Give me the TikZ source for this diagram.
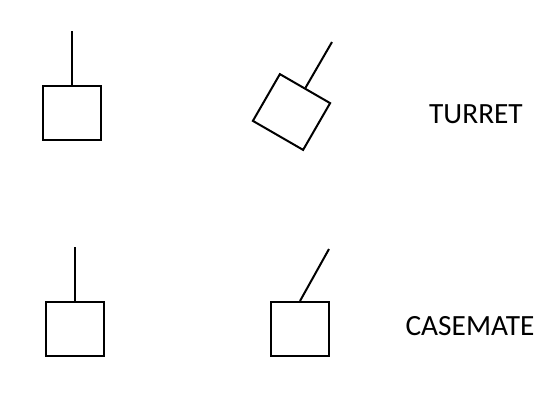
\documentclass[tikz,border=0pt]{standalone}
\usepackage{fontspec}
\setmainfont{Carlito}
\begin{document}
\begin{tikzpicture}[x=0.75pt,y=-0.75pt,
  hull/.style={draw,line width=1.5pt,inner sep=0pt,minimum width=43.5pt,minimum height=40.5pt},
  gun/.style={line width=1.5pt},
  lbl/.style={font=\fontsize{22pt}{26pt}\selectfont,inner sep=0pt}]
\useasboundingbox (0,0) rectangle (554,408);
\node[hull] (t1) at (72,113) {};
\coordinate (g1) at (72,31);
\draw[gun] (t1.north) -- (g1);
\node[hull,rotate=-30] (t2) at (291.5,112) {};
\coordinate (g2) at (332,42);
\draw[gun] (t2.north) -- (g2);
\node[hull] (c1) at (75,329) {};
\coordinate (g3) at (75,247);
\draw[gun] (c1.north) -- (g3);
\node[hull] (c2) at (300,329) {};
\coordinate (g4) at (329,249);
\draw[gun] (c2.north) -- (g4);
\node[lbl] (turret) at (476,114) {TURRET};
\node[lbl] (casemate) at (470,326) {CASEMATE};
\end{tikzpicture}
\end{document}
